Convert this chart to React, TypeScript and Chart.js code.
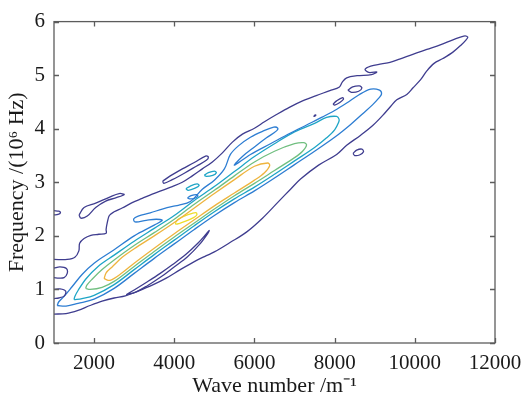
import React, { useEffect, useRef } from "react";
import { Chart, registerables } from "chart.js";

Chart.register(...registerables);

type P = [number, number];

// Axis ticks
const xTicks = [2000, 4000, 6000, 8000, 10000, 12000];
const yTicks = [0, 1, 2, 3, 4, 5, 6];

// Contour level colours (parula-like)
const levelColors = ["#3f3d8f", "#2d7dd2", "#1ea5c6", "#71bf80", "#eeb43e", "#eedd2a"];

// ---- Level 1 (purple) contours ----
const purpleMain: P[] = [
  [1000, 0.54], [1300, 0.55], [1600, 0.61], [1900, 0.7], [2200, 0.78], [2500, 0.84], [2780, 0.88],
  [3100, 0.97], [3450, 1.08], [3800, 1.21], [4150, 1.37], [4500, 1.52], [4800, 1.63], [5000, 1.7],
  [5400, 1.88], [5800, 2.07], [6200, 2.33], [6600, 2.64], [6900, 2.87], [7150, 3.06], [7600, 3.32],
  [8050, 3.52], [8300, 3.69], [8650, 3.88], [8950, 4.06], [9200, 4.25], [9400, 4.42], [9550, 4.54],
  [9800, 4.64], [9950, 4.76], [10150, 4.92], [10300, 5.08], [10480, 5.22], [10700, 5.31], [10950, 5.43],
  [11150, 5.56], [11280, 5.66], [11320, 5.71],
  [11220, 5.73], [10950, 5.66], [10650, 5.57], [10300, 5.48], [9950, 5.39], [9620, 5.3], [9380, 5.24],
  [9170, 5.21], [8900, 5.17], [8760, 5.11], [8850, 5.05], [9050, 5.06], [8920, 5.01], [8560, 4.99],
  [8300, 4.95], [8190, 4.87], [8120, 4.78], [7880, 4.71], [7540, 4.62], [7200, 4.52], [6870, 4.4],
  [6540, 4.26], [6250, 4.13], [6000, 4.01], [5700, 3.9], [5450, 3.75], [5200, 3.55], [4950, 3.38],
  [4700, 3.25], [4450, 3.12], [4200, 3.0], [3950, 2.92], [3700, 2.85], [3450, 2.78], [3200, 2.7],
  [2950, 2.62], [2700, 2.52], [2500, 2.45], [2380, 2.38], [2330, 2.25], [2300, 2.12], [2300, 2.05],
  [2120, 2.03], [1920, 2.01], [1750, 1.95], [1640, 1.86], [1620, 1.72], [1520, 1.6], [1330, 1.56],
  [1000, 1.56],
];
const purpleTongue: P[] = [
  [2800, 0.9], [3000, 0.99], [3300, 1.13], [3650, 1.3], [3950, 1.46], [4300, 1.66], [4600, 1.87],
  [4780, 2.02], [4870, 2.1], [4840, 2.05], [4630, 1.84], [4330, 1.61], [3980, 1.41], [3680, 1.24],
  [3330, 1.07], [3040, 0.95], [2800, 0.9],
];
const purpleIslandA: P[] = [
  [3710, 3.02], [3900, 3.12], [4200, 3.25], [4500, 3.37], [4780, 3.49], [4850, 3.47], [4800, 3.41],
  [4550, 3.3], [4250, 3.17], [3950, 3.05], [3740, 2.98], [3710, 3.02],
];
const purpleIslandB: P[] = [
  [1625, 2.39], [1750, 2.53], [2040, 2.61], [2375, 2.72], [2625, 2.79], [2750, 2.77], [2540, 2.71],
  [2290, 2.65], [2040, 2.53], [1830, 2.37], [1670, 2.33], [1625, 2.39],
];
const purpleStub: P[] = [[1000, 2.47], [1120, 2.46], [1160, 2.43], [1100, 2.4], [1000, 2.39]];
const purpleLeftA: P[] = [
  [1000, 1.4], [1150, 1.42], [1310, 1.39], [1330, 1.3], [1250, 1.22], [1120, 1.21], [1000, 1.22],
];
const purpleLeftB: P[] = [
  [1000, 1.0], [1150, 1.01], [1290, 0.97], [1260, 0.88], [1120, 0.84], [1000, 0.83],
];
const purpleSmall1: P[] = [
  [8330, 4.72], [8450, 4.78], [8620, 4.8], [8680, 4.76], [8600, 4.7], [8420, 4.68], [8330, 4.72],
];
const purpleSmall2: P[] = [
  [7960, 4.46], [8050, 4.52], [8200, 4.58], [8220, 4.55], [8130, 4.49], [8000, 4.44], [7960, 4.46],
];
const purpleSmall3: P[] = [
  [8460, 3.54], [8550, 3.6], [8680, 3.62], [8720, 3.57], [8620, 3.51], [8500, 3.5], [8460, 3.54],
];
const purpleDot: P[] = [[7480, 4.24], [7520, 4.26], [7530, 4.25], [7490, 4.23], [7480, 4.24]];

// ---- Level 2 (blue) ----
const blueMain: P[] = [
  [1080, 0.7], [1300, 0.69], [1600, 0.74], [2000, 0.82], [2500, 1.02], [3000, 1.3], [3500, 1.58],
  [4000, 1.85], [4500, 2.12], [5000, 2.38], [5500, 2.62], [6000, 2.84], [6500, 3.08], [7000, 3.33],
  [7500, 3.58], [8000, 3.84], [8400, 4.08], [8700, 4.28], [8950, 4.45], [9100, 4.57], [9170, 4.65],
  [9120, 4.72], [8900, 4.74], [8600, 4.63], [8300, 4.48], [8000, 4.34], [7700, 4.22], [7300, 4.07],
  [6900, 3.92], [6400, 3.72], [5900, 3.52], [5500, 3.32], [5700, 3.48], [6000, 3.66], [6300, 3.83],
  [6550, 3.96], [6580, 4.01], [6480, 4.03], [6200, 3.95], [5900, 3.84], [5600, 3.68], [5400, 3.52],
  [5250, 3.25], [5000, 3.04], [4700, 2.87], [4400, 2.64], [4100, 2.57], [3960, 2.55], [3700, 2.5],
  [3400, 2.43], [3100, 2.37], [2990, 2.32], [3020, 2.26], [3300, 2.29], [3550, 2.31], [3700, 2.29],
  [3500, 2.2], [3000, 2.0], [2500, 1.74], [2000, 1.49], [1700, 1.28], [1450, 1.05], [1250, 0.87],
  [1120, 0.77], [1080, 0.7],
];
const blueIsland: P[] = [
  [4330, 2.71], [4420, 2.75], [4560, 2.77], [4590, 2.74], [4500, 2.7], [4380, 2.69], [4330, 2.71],
];

// ---- Level 3 (teal) ----
const tealMain: P[] = [
  [1500, 0.81], [1700, 0.83], [2000, 0.89], [2500, 1.09], [3000, 1.37], [3500, 1.65], [4000, 1.92],
  [4500, 2.19], [5000, 2.45], [5500, 2.69], [6000, 2.91], [6500, 3.15], [7000, 3.4], [7500, 3.65],
  [7800, 3.83], [8000, 3.98], [8100, 4.12], [8110, 4.18], [8050, 4.23], [7800, 4.21], [7500, 4.1],
  [7000, 3.94], [6500, 3.72], [6000, 3.48], [5500, 3.2], [5000, 2.92], [4500, 2.66], [4000, 2.38],
  [3500, 2.14], [3000, 1.9], [2500, 1.64], [2100, 1.43], [1800, 1.2], [1600, 0.98], [1520, 0.87],
  [1500, 0.81],
];
const tealIslandA: P[] = [
  [4750, 3.13], [4850, 3.18], [5000, 3.21], [5050, 3.18], [4960, 3.13], [4800, 3.11], [4750, 3.13],
];
const tealIslandB: P[] = [
  [4290, 2.88], [4400, 2.93], [4570, 2.97], [4620, 2.94], [4520, 2.89], [4350, 2.85], [4290, 2.88],
];

// ---- Level 4 (green) ----
const greenMain: P[] = [
  [1790, 1.02], [1900, 1.0], [2200, 1.04], [2500, 1.15], [3000, 1.43], [3500, 1.71], [4000, 1.98],
  [4500, 2.24], [5000, 2.5], [5500, 2.75], [6000, 2.98], [6500, 3.22], [7000, 3.46], [7200, 3.58],
  [7300, 3.7], [7230, 3.74], [7000, 3.72], [6500, 3.58], [6000, 3.38], [5500, 3.12], [5000, 2.85],
  [4500, 2.59], [4000, 2.31], [3500, 2.06], [3000, 1.82], [2500, 1.55], [2200, 1.37], [1950, 1.19],
  [1820, 1.08], [1790, 1.02],
];

// ---- Level 5 (orange) ----
const orangeMain: P[] = [
  [2250, 1.2], [2400, 1.17], [2700, 1.31], [3000, 1.49], [3500, 1.77], [4000, 2.04], [4500, 2.3],
  [5000, 2.56], [5500, 2.8], [6000, 3.04], [6250, 3.18], [6380, 3.31], [6330, 3.36], [6000, 3.3],
  [5500, 3.05], [5000, 2.79], [4500, 2.52], [4000, 2.25], [3500, 2.0], [3000, 1.76], [2700, 1.6],
  [2450, 1.42], [2300, 1.31], [2250, 1.2],
];

// ---- Level 6 (yellow) ----
const yellowMain: P[] = [
  [4030, 2.25], [4100, 2.31], [4250, 2.37], [4450, 2.42], [4550, 2.43], [4560, 2.39], [4480, 2.34],
  [4300, 2.28], [4120, 2.23], [4040, 2.22], [4030, 2.25],
];

const contours: { level: number; pts: P[] }[] = [
  { level: 0, pts: purpleMain }, { level: 0, pts: purpleTongue }, { level: 0, pts: purpleIslandA },
  { level: 0, pts: purpleIslandB }, { level: 0, pts: purpleStub }, { level: 0, pts: purpleLeftA },
  { level: 0, pts: purpleLeftB }, { level: 0, pts: purpleSmall1 }, { level: 0, pts: purpleSmall2 },
  { level: 0, pts: purpleSmall3 }, { level: 0, pts: purpleDot },
  { level: 1, pts: blueMain }, { level: 1, pts: blueIsland },
  { level: 2, pts: tealMain }, { level: 2, pts: tealIslandA }, { level: 2, pts: tealIslandB },
  { level: 3, pts: greenMain },
  { level: 4, pts: orangeMain },
  { level: 5, pts: yellowMain },
];

const FONT = "'Liberation Serif', 'Times New Roman', serif";

const framePlugin = {
  id: "frameTicks",
  afterDraw(chart: any) {
    const { ctx, chartArea: a, scales } = chart;
    const xs = scales.x, ys = scales.y;
    ctx.save();
    ctx.strokeStyle = "#5c5c5c";
    ctx.lineWidth = 1.3;
    ctx.strokeRect(a.left, a.top, a.right - a.left, a.bottom - a.top);
    ctx.beginPath();
    const t = 5;
    xTicks.forEach((v) => {
      const px = Math.round(xs.getPixelForValue(v)) + 0.5;
      ctx.moveTo(px, a.bottom); ctx.lineTo(px, a.bottom - t);
      ctx.moveTo(px, a.top); ctx.lineTo(px, a.top + t);
    });
    yTicks.forEach((v) => {
      const py = Math.round(ys.getPixelForValue(v)) + 0.5;
      ctx.moveTo(a.left, py); ctx.lineTo(a.left + t, py);
      ctx.moveTo(a.right, py); ctx.lineTo(a.right - t, py);
    });
    ctx.stroke();
    ctx.restore();
  },
};

export default function App() {
  const ref = useRef<HTMLCanvasElement | null>(null);
  useEffect(() => {
    if (!ref.current) return;
    const datasets = contours.map((c) => ({
      type: "line" as const,
      data: c.pts.map(([x, y]) => ({ x, y })),
      borderColor: levelColors[c.level],
      borderWidth: 1.3,
      pointRadius: 0,
      showLine: true,
      fill: false,
      tension: 0.35,
    }));
    const chart = new Chart(ref.current, {
      type: "scatter",
      data: { datasets },
      options: {
        animation: false,
        responsive: true,
        maintainAspectRatio: false,
        layout: { padding: { top: 13, right: 37, left: 0, bottom: 0 } },
        plugins: { legend: { display: false }, tooltip: { enabled: false } },
        scales: {
          x: {
            type: "linear",
            min: 1000,
            max: 12000,
            afterBuildTicks: (s: any) => { s.ticks = xTicks.map((v) => ({ value: v })); },
            grid: { display: false, drawTicks: false },
            border: { display: false },
            ticks: {
              font: { family: FONT, size: 21 }, color: "#1a1a1a", padding: 8, maxRotation: 0, autoSkip: false,
              callback: (v: any) => String(v),
            },
            title: { display: true, text: "Wave number /m⁻¹", font: { family: FONT, size: 22 }, color: "#1a1a1a", padding: { top: 0, bottom: 0 } },
            afterFit: (s: any) => { s.height = 56; },
          },
          y: {
            type: "linear",
            min: 0,
            max: 6,
            afterBuildTicks: (s: any) => { s.ticks = yTicks.map((v) => ({ value: v })); },
            grid: { display: false, drawTicks: false },
            border: { display: false },
            ticks: { font: { family: FONT, size: 21 }, color: "#1a1a1a", padding: 9, callback: (v: any) => String(v) },
            title: { display: true, text: "Frequency /(10⁶ Hz)", font: { family: FONT, size: 22 }, color: "#1a1a1a", padding: { top: 4, bottom: 0 } },
            afterFit: (s: any) => { s.width = 54; },
          },
        },
      },
      plugins: [framePlugin],
    });
    return () => chart.destroy();
  }, []);
  return (
    <div style={{ position: "absolute", left: 0, top: 0, width: 532, height: 399, background: "#fff" }}>
      <canvas ref={ref} />
    </div>
  );
}
